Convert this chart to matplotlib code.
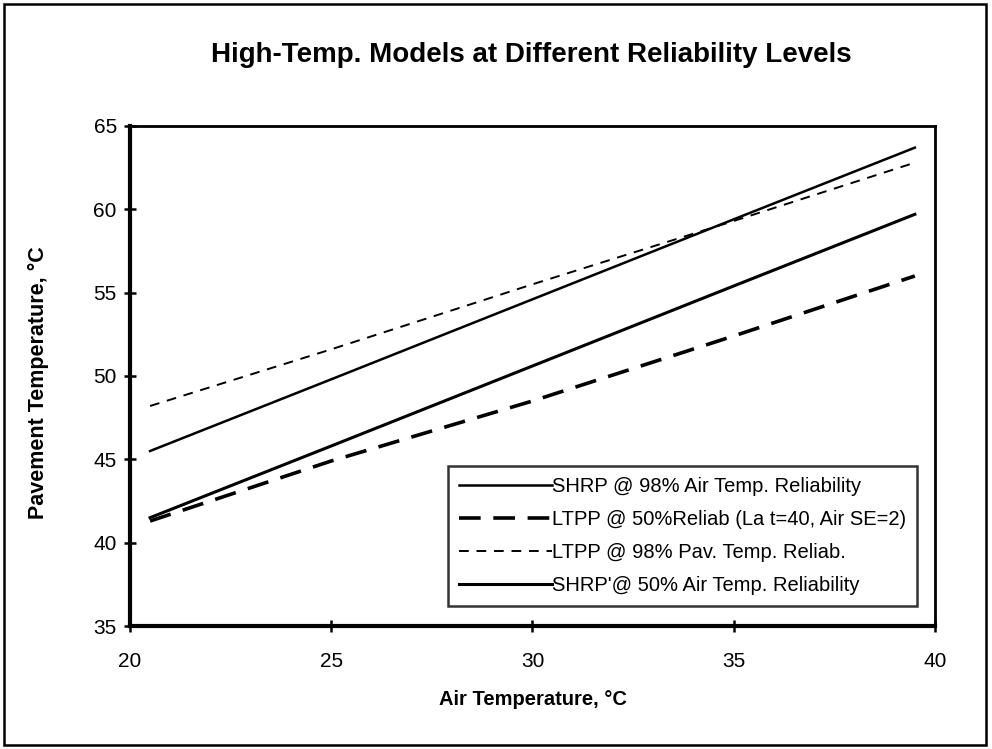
import matplotlib
matplotlib.use("Agg")
import matplotlib.pyplot as plt
from matplotlib.patches import Rectangle

plt.rcParams['font.family'] = ['Liberation Sans', 'DejaVu Sans']

air_temp = [20.5, 25, 30, 35, 39.5]
shrp_98 = [45.5, 49.8, 54.6, 59.4, 63.7]
ltpp_50 = [41.3, 44.9, 48.5, 52.4, 56.0]
ltpp_98 = [48.2, 51.6, 55.5, 59.3, 62.8]
shrp_50 = [41.5, 45.8, 50.6, 55.4, 59.7]

labels = ["SHRP @ 98% Air Temp. Reliability",
          "LTPP @ 50%Reliab (La t=40, Air SE=2)",
          "LTPP @ 98% Pav. Temp. Reliab.",
          "SHRP'@ 50% Air Temp. Reliability"]

fig = plt.figure(figsize=(9.92, 7.49), dpi=100)
ax = fig.add_axes([0.131, 0.1642, 0.8115, 0.6676])

ax.plot(air_temp, shrp_98, color='black', lw=1.8, label=labels[0])
ax.plot(air_temp, ltpp_50, color='black', lw=2.6, ls=(0, (6, 3.5)), label=labels[1])
ax.plot(air_temp, ltpp_98, color='black', lw=1.4, ls=(0, (5, 4)), label=labels[2])
ax.plot(air_temp, shrp_50, color='black', lw=2.2, label=labels[3])

ax.set_xlim(20, 40)
ax.set_ylim(35, 65)
ax.set_xticks([20, 25, 30, 35, 40])
ax.set_yticks([35, 40, 45, 50, 55, 60, 65])
ax.tick_params(direction='inout', length=9, width=1.8, labelsize=15,
               colors='black')
ax.tick_params(axis='y', pad=5)
ax.tick_params(axis='x', pad=14)
for s in ['left', 'bottom']:
    ax.spines[s].set_linewidth(3)
for s in ['top', 'right']:
    ax.spines[s].set_linewidth(2)

ax.set_xlabel("Air Temperature, °C", fontsize=14.5, fontweight='bold', labelpad=14)
ax.set_ylabel("Pavement Temperature, °C", fontsize=15.5, fontweight='bold')
ax.yaxis.set_label_coords(-0.1006, 0.486)

fig.text(0.536, 1 - 62 / 749, "High-Temp. Models at Different Reliability Levels",
         ha='center', va='baseline', fontsize=20, fontweight='bold')

leg = ax.legend(loc='lower right', bbox_to_anchor=(0.978, 0.04),
                fontsize=14.5, frameon=True, fancybox=False,
                edgecolor='black', handlelength=4.6, handletextpad=0.0,
                labelspacing=0.7, borderaxespad=0, borderpad=0.55)
leg.get_frame().set_linewidth(1.8)

fig.patches.append(Rectangle((0.004, 0.005), 0.99, 0.99, transform=fig.transFigure,
                             fill=False, edgecolor='black', lw=1.8))

fig.savefig("out.png", dpi=100)
